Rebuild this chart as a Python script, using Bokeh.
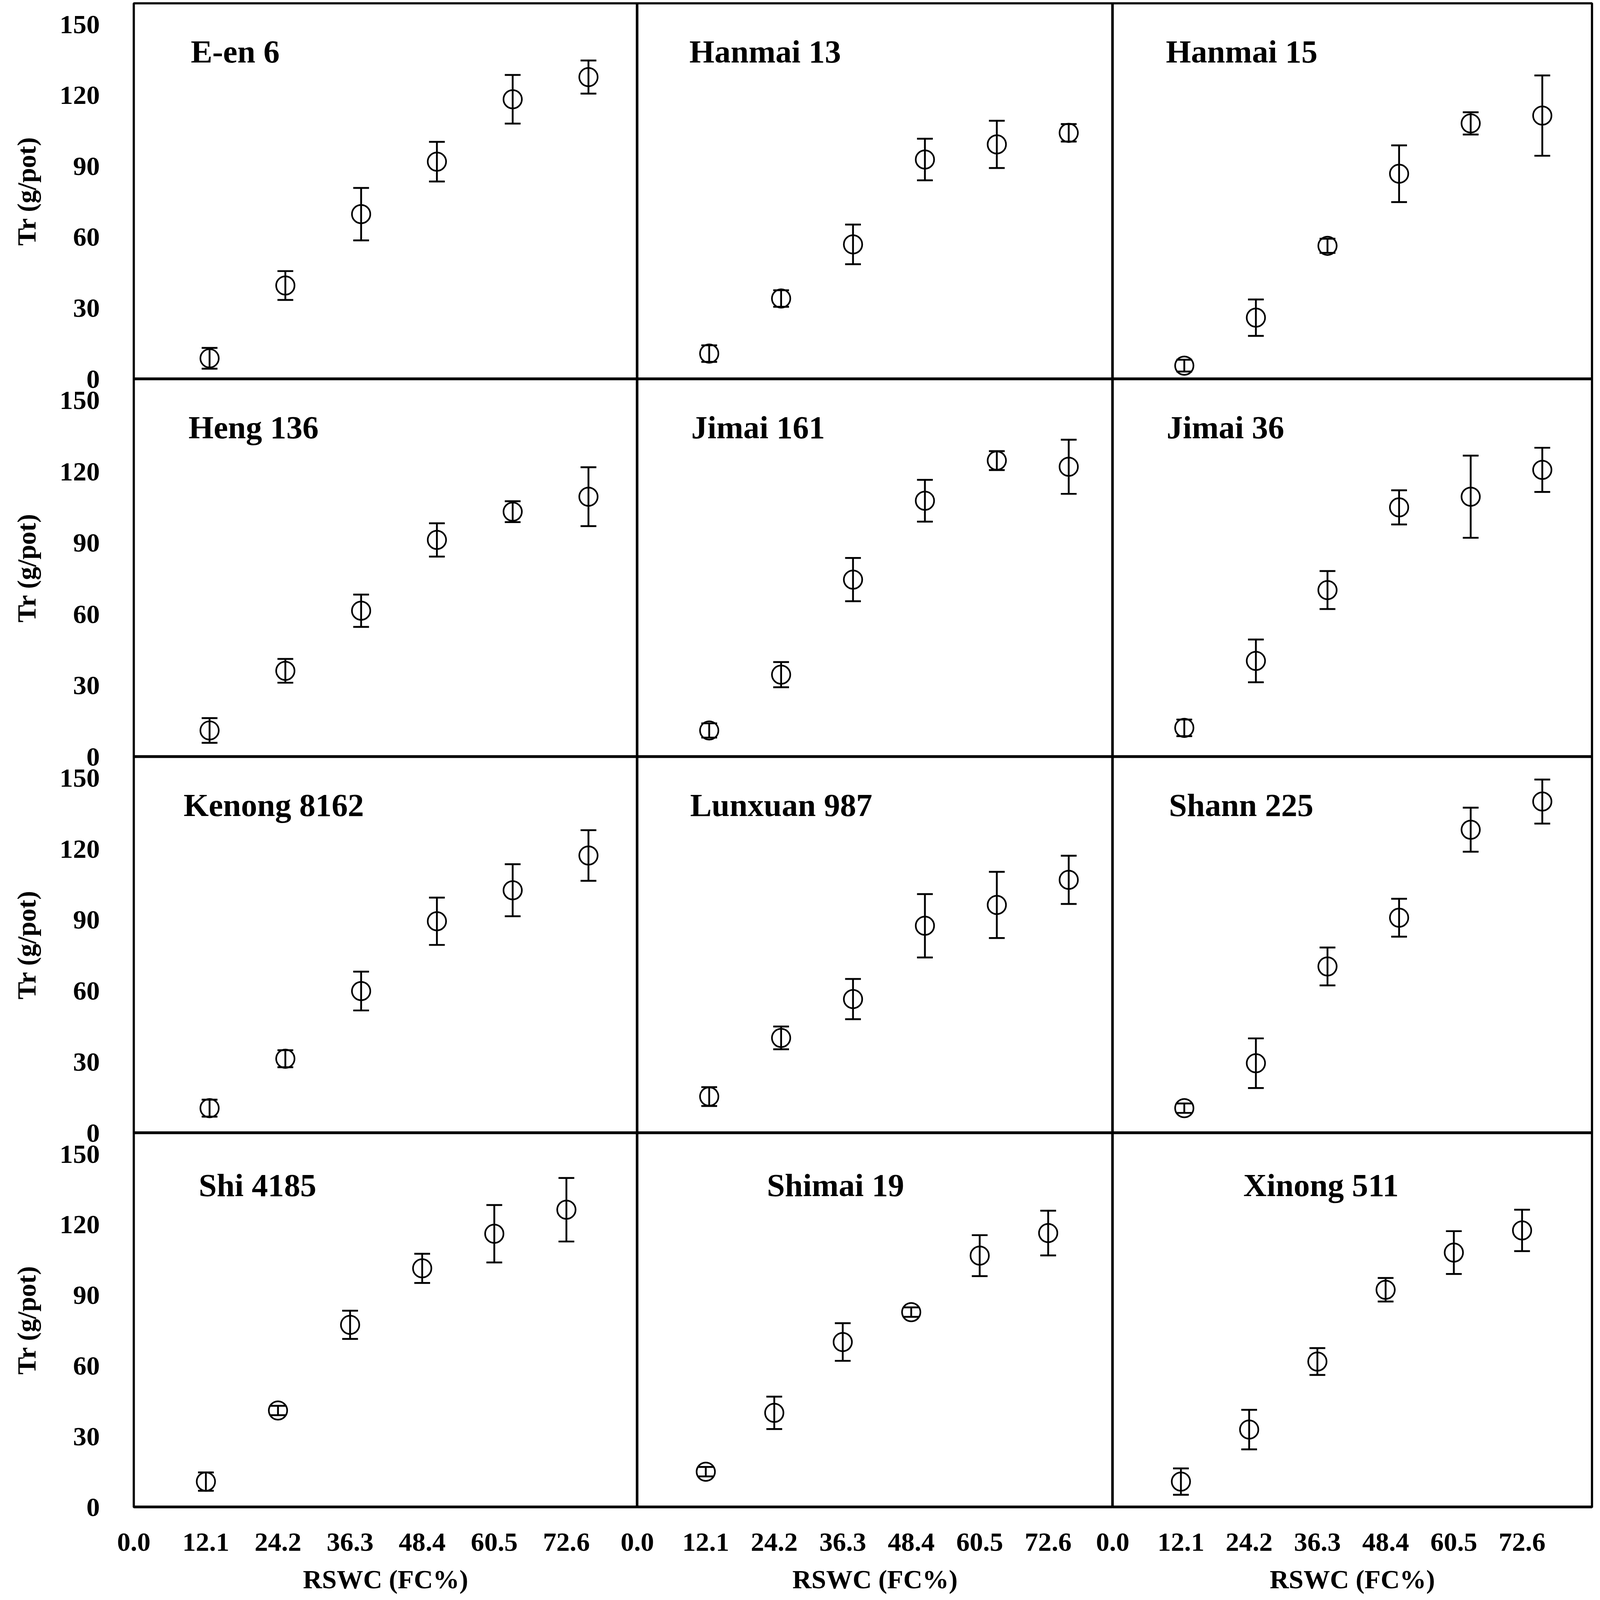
from bokeh.plotting import figure
from bokeh.layouts import row, column
from bokeh.models import (Range1d, Whisker, TeeHead, ColumnDataSource, Label,
                          FixedTicker, NumeralTickFormatter, Span)
from bokeh.embed import file_html
from bokeh.resources import INLINE

# ---------------- data ----------------
cultivars = ["E-en 6", "Hanmai 13", "Hanmai 15",
             "Heng 136", "Jimai 161", "Jimai 36",
             "Kenong 8162", "Lunxuan 987", "Shann 225",
             "Shi 4185", "Shimai 19", "Xinong 511"]

rswc = [12.1, 24.2, 36.3, 48.4, 60.5, 72.6]
x_tick_values = [0.0, 12.1, 24.2, 36.3, 48.4, 60.5, 72.6]
y_tick_values = [0, 30, 60, 90, 120, 150]

tr_e_en_6 = [8.8, 39.6, 69.8, 92.0, 118.4, 127.8]
se_e_en_6 = [4.4, 6.1, 11.1, 8.4, 10.3, 7.0]
tr_hanmai_13 = [10.8, 34.1, 57.0, 92.9, 99.3, 104.2]
se_hanmai_13 = [3.5, 3.5, 8.4, 8.8, 10.0, 3.7]
tr_hanmai_15 = [5.7, 26.0, 56.4, 86.9, 108.2, 111.5]
se_hanmai_15 = [2.5, 7.7, 3.0, 12.0, 4.7, 17.0]
tr_heng_136 = [11.1, 36.2, 61.5, 91.3, 103.2, 109.5]
se_heng_136 = [5.2, 5.0, 6.8, 7.0, 4.4, 12.4]
tr_jimai_161 = [11.1, 34.6, 74.6, 107.8, 124.7, 122.1]
se_jimai_161 = [3.0, 5.3, 9.1, 8.8, 4.0, 11.4]
tr_jimai_36 = [12.2, 40.4, 70.2, 105.0, 109.5, 120.8]
se_jimai_36 = [3.5, 9.0, 8.0, 7.2, 17.3, 9.3]
tr_kenong_8162 = [10.5, 31.4, 60.0, 89.5, 102.6, 117.3]
se_kenong_8162 = [3.6, 3.6, 8.2, 10.0, 11.0, 10.7]
tr_lunxuan_987 = [15.4, 40.2, 56.6, 87.6, 96.4, 107.0]
se_lunxuan_987 = [4.0, 4.8, 8.5, 13.4, 14.0, 10.2]
tr_shann_225 = [10.5, 29.5, 70.4, 91.0, 128.2, 140.1]
se_shann_225 = [2.0, 10.5, 8.0, 8.0, 9.3, 9.3]
tr_shi_4185 = [10.9, 41.1, 77.5, 101.5, 116.2, 126.4]
se_shi_4185 = [3.9, 2.0, 6.0, 6.2, 12.2, 13.5]
tr_shimai_19 = [15.1, 40.1, 70.2, 82.9, 106.9, 116.5]
se_shimai_19 = [2.0, 6.9, 8.0, 2.0, 8.7, 9.5]
tr_xinong_511 = [10.9, 33.0, 61.9, 92.4, 108.2, 117.6]
se_xinong_511 = [5.6, 8.4, 5.7, 5.0, 9.1, 8.8]

tr_all = [tr_e_en_6, tr_hanmai_13, tr_hanmai_15, tr_heng_136, tr_jimai_161,
          tr_jimai_36, tr_kenong_8162, tr_lunxuan_987, tr_shann_225,
          tr_shi_4185, tr_shimai_19, tr_xinong_511]
se_all = [se_e_en_6, se_hanmai_13, se_hanmai_15, se_heng_136, se_jimai_161,
          se_jimai_36, se_kenong_8162, se_lunxuan_987, se_shann_225,
          se_shi_4185, se_shimai_19, se_xinong_511]

# ---------------- layout / style (reference pixels scaled by SX, SY) ----------------
SX = 4090 / 4205
SY = 4088 / 4529
SF = 0.94          # scale for fonts, markers and strokes
FONT = "Liberation Serif"


def sx(v):
    return int(round(v * SX))


def sy(v):
    return int(round(v * SY))


LEFT = sx(352)
COL_W = [sx(1325), sx(1251), sx(1262)]
RIGHT = 4090 - LEFT - sum(COL_W)
TOP = sy(9)
ROW_H = [sy(1066), sy(1071), sy(1067), sy(1061)]
BOTTOM = 4088 - TOP - sum(ROW_H)
OVER = 60
XMAX = [[80.4, 80.0, 81.0], [80.4, 80.0, 81.0], [80.4, 80.0, 81.0], [84.5, 84.0, 85.0]]
YMAX = 159
TITLE_DX = [150, 137, 140, 144, 142, 142, 131, 139, 148, 171, 341, 344]
TITLE_DY = [137, 137, 137, 137, 137, 137, 137, 137, 137, 148, 148, 148]

TICK_FS = f"{73 * SF:.1f}px"
AXLAB_FS = f"{72 * SF:.1f}px"
TITLE_FS = f"{88 * SF:.1f}px"

rows = []
for r in range(4):
    figs = []
    for c in range(3):
        i = r * 3 + c
        is_left = c == 0
        is_bottom = r == 3
        bl = LEFT if is_left else (OVER if is_bottom else 0)
        br = RIGHT if c == 2 else 0
        bt = TOP if r == 0 else 0
        bb = BOTTOM if is_bottom else OVER
        ml = -OVER if (is_bottom and not is_left) else 0
        mb = 0 if is_bottom else -OVER
        xmax = XMAX[r][c]
        p = figure(width=COL_W[c] + bl + br, height=ROW_H[r] + bt + bb,
                   x_range=Range1d(0, xmax), y_range=Range1d(0, YMAX),
                   output_backend="svg", toolbar_location=None,
                   x_axis_location="below" if is_bottom else None,
                   y_axis_location="left" if is_left else None,
                   min_border_left=bl, min_border_right=br,
                   min_border_top=bt, min_border_bottom=bb,
                   margin=(0, 0, mb, ml))
        p.background_fill_color = None
        p.border_fill_color = None
        p.outline_line_color = "black"
        p.outline_line_width = 6 * SF
        p.grid.visible = False
        p.add_layout(Span(location=0, dimension="width",
                          line_color="black", line_width=9 * SF))

        for ax in p.axis:
            ax.axis_line_color = None
            ax.major_tick_line_color = None
            ax.minor_tick_line_color = None
            ax.major_tick_in = 0
            ax.major_tick_out = 0
            ax.minor_tick_in = 0
            ax.minor_tick_out = 0
            ax.major_label_text_font = FONT
            ax.major_label_text_font_style = "bold"
            ax.major_label_text_font_size = TICK_FS
            ax.major_label_text_color = "black"
            ax.axis_label_text_font = FONT
            ax.axis_label_text_font_style = "bold"
            ax.axis_label_text_font_size = AXLAB_FS
            ax.axis_label_text_color = "black"
        if is_left:
            p.yaxis.ticker = FixedTicker(ticks=y_tick_values)
            p.yaxis.major_label_standoff = sx(89)
            p.yaxis.axis_label = "Tr (g/pot)"
            p.yaxis.axis_label_standoff = sx(45)
        if is_bottom:
            p.xaxis.ticker = FixedTicker(ticks=x_tick_values)
            p.xaxis.formatter = NumeralTickFormatter(format="0.0")
            p.xaxis.major_label_standoff = sy(74)
            p.xaxis.axis_label = "RSWC (FC%)"
            p.xaxis.axis_label_standoff = sy(37)

        y = tr_all[i]
        e = se_all[i]
        src = ColumnDataSource(dict(x=rswc, y=y,
                                    upper=[a + b for a, b in zip(y, e)],
                                    lower=[a - b for a, b in zip(y, e)]))
        p.add_layout(Whisker(source=src, base="x", upper="upper", lower="lower",
                             dimension="height", line_color="black", line_width=5 * SF,
                             upper_head=TeeHead(size=43 * SF, line_width=5 * SF, line_color="black"),
                             lower_head=TeeHead(size=43 * SF, line_width=5 * SF, line_color="black")))
        p.scatter("x", "y", source=src, marker="circle", size=50 * SF,
                  fill_color=None, line_color="black", line_width=4.5 * SF)

        p.add_layout(Label(x=TITLE_DX[i] * SX / COL_W[c] * xmax,
                           y=YMAX * (1 - TITLE_DY[i] * SY / ROW_H[r]),
                           text=cultivars[i], text_font=FONT,
                           text_font_style="bold", text_font_size=TITLE_FS,
                           text_color="black", text_align="left",
                           text_baseline="alphabetic"))
        figs.append(p)
    rows.append(row(*figs, spacing=0))

layout = column(*rows, spacing=0)
open("out.html", "w").write(file_html(layout, INLINE))
